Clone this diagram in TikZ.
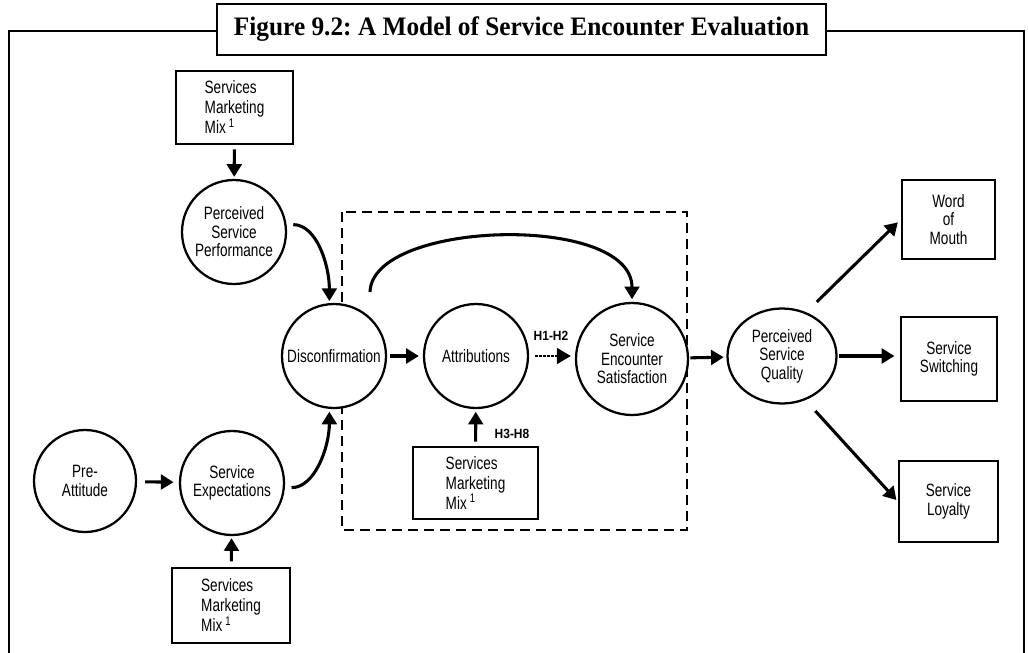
\documentclass[tikz,border=0pt]{standalone}
\usepackage{fontspec}
\setmainfont{Liberation Serif}
\newfontfamily\titlefont[FakeStretch=0.95]{Liberation Serif}
\newfontfamily\diagfont[FakeStretch=0.76]{Liberation Sans}
\newfontfamily\hypfont[FakeStretch=0.9]{Liberation Sans}
\usetikzlibrary{arrows.meta,shapes.geometric,calc}
\newlength{\pxu}\setlength{\pxu}{0.75pt}
\frenchspacing

\begin{document}
\begin{tikzpicture}[x=\pxu,y=-\pxu,
  every node/.style={font=\diagfont\fontsize{13.4}{13.8}\selectfont},
  conc/.style={circle,draw,fill=white,line width=1.7pt,inner sep=0pt,align=center},
  mixbox/.style={draw,fill=white,line width=1.9pt,inner sep=0pt,align=left,
    font=\diagfont\fontsize{13.4}{15}\selectfont},
  outbox/.style={draw,fill=white,line width=1.9pt,inner sep=0pt,align=center},
  arr/.style={line width=2.3pt,-{Triangle[length=9.5pt,width=11pt]}},
  dotarr/.style={line width=1.3pt,dash pattern=on 1.8pt off 1.2pt,
    -{Triangle[length=10.5pt,width=12pt]}},
  hyp/.style={font=\hypfont\bfseries\fontsize{10}{11}\selectfont},
  frameline/.style={line width=1.9pt}
]
\useasboundingbox (0,0) rectangle (1028,653);

% outer frame, open at the bottom
\draw[frameline] (9,653) -- (9,31) -- (1024,31) -- (1024,653);

% title banner
\node[draw,fill=white,line width=1.9pt,minimum width=456.75pt,minimum height=38.25pt,
  inner sep=0pt,font=\titlefont\bfseries\fontsize{20}{22}\selectfont]
  (title) at (521.5,29.5) {Figure 9.2: A Model of Service Encounter Evaluation};

% dashed region around the encounter stage
\draw[line width=1.5pt,dash pattern=on 7.5pt off 4.5pt] (342,212) rectangle (687,530);

% constructs
\node[conc,minimum size=78pt] (psp)  at (234,232) {Perceived\\Service\\Performance};
\node[conc,minimum size=78pt] (disc) at (334,356) {Disconfirmation};
\node[conc,minimum size=78pt] (attr) at (476,356) {Attributions};
\node[conc,minimum size=84pt] (ses)  at (632,359) {Service\\Encounter\\Satisfaction};
\node[conc,minimum size=76.5pt] (pre)  at (85,481)  {Pre-\\Attitude};
\node[conc,minimum size=78pt] (sexp) at (232,483) {Service\\Expectations};
\node[ellipse,draw,fill=white,line width=1.7pt,inner sep=0pt,align=center,
  minimum width=81.75pt,minimum height=71.25pt] (psq) at (782,356) {Perceived\\Service\\Quality};

% marketing mix inputs
\node[mixbox,minimum width=87.75pt,minimum height=54.75pt] (mixa) at (234.5,107.5)
  {Services\\Marketing\\Mix\,\textsuperscript{1}};
\node[mixbox,minimum width=93.75pt,minimum height=54pt] (mixb) at (475.5,483)
  {Services\\Marketing\\Mix\,\textsuperscript{1}};
\node[mixbox,minimum width=88.5pt,minimum height=56.25pt] (mixc) at (231,605.5)
  {Services\\Marketing\\Mix\,\textsuperscript{1}};

% outcomes
\node[outbox,minimum width=69.75pt,minimum height=59.25pt] (wom) at (948.5,219.5) {Word\\of\\Mouth};
\node[outbox,minimum width=72pt,minimum height=63pt] (swi) at (949,359) {Service\\Switching};
\node[outbox,minimum width=74.25pt,minimum height=60.75pt] (loy) at (948.5,501.5) {Service\\Loyalty};

% links
\draw[arr,shorten <=3pt,shorten >=1.5pt] (mixa) -- (psp);
\draw[arr,shorten <=5pt,shorten >=1.5pt] (psp.8) .. controls +(30,0) and +(0,-38) .. (disc.95);
\draw[arr,shorten <=5pt,shorten >=2pt] (sexp.-5) .. controls +(30,0) and +(0,38) .. (disc.265);
\draw[arr,shorten <=2pt,shorten >=3pt] (disc) -- (attr);
\draw[dotarr,shorten <=4.5pt,shorten >=3pt] (attr.east) -- (attr.east -| ses.west);
\node[hyp] (h12) at (551,336) {H1-H2};

\coordinate (arcstart) at (370,292);
\draw[arr,shorten >=2pt] (arcstart) .. controls +(2,-72) and +(0,-89) .. (ses.north);

\draw[arr,shorten <=3pt,shorten >=2pt] (mixb) -- (attr);
\node[hyp] (h38) at (512,434) {H3-H8};

\draw[arr,shorten <=4pt,shorten >=1.5pt] (mixc) -- (sexp);
\draw[arr,shorten <=6pt,shorten >=4pt] (pre) -- (sexp);
\draw[arr,shorten <=1pt,shorten >=2pt] (ses) -- (psq);
\draw[arr,shorten <=1pt,shorten >=4pt] (psq.east) -- (psq.east -| swi.west);
\draw[arr,shorten <=11pt,shorten >=3pt] (psq.61) -- (wom.west);
\draw[arr,shorten <=11pt,shorten >=1.5pt] (psq.-62) -- (loy.west);
\end{tikzpicture}
\end{document}
